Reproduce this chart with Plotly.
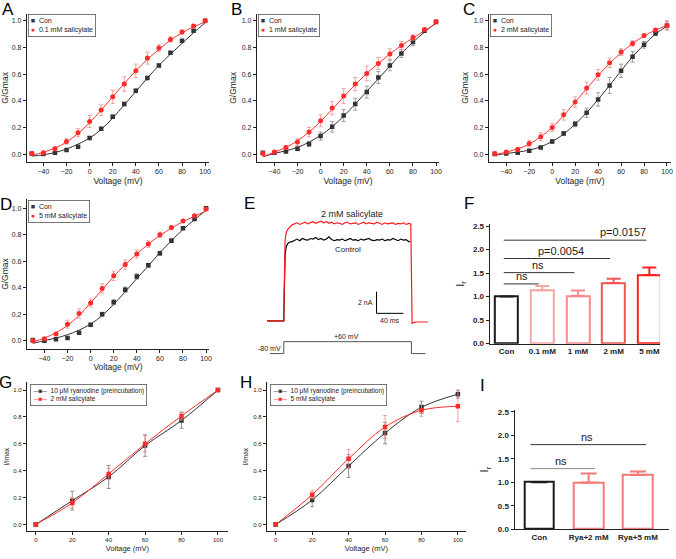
import plotly.graph_objects as go

W, H = 676, 559
FONT = "Arial, Liberation Sans, sans-serif"

# ---- G/Gmax vs voltage (panels A-D) ----
volt = [-50, -40, -30, -20, -10, 0, 10, 20, 30, 40, 50, 60, 70, 80, 90, 100]

a_con = [0.005, 0.0, 0.01, 0.03, 0.055, 0.12, 0.19, 0.28, 0.375, 0.475, 0.57, 0.665, 0.76, 0.85, 0.925, 1.0]
a_con_err = [0.005, 0.005, 0.005, 0.006, 0.008, 0.01, 0.01, 0.012, 0.014, 0.014, 0.012, 0.012, 0.01, 0.008, 0.006, 0.004]
a_sal = [0.005, 0.01, 0.04, 0.095, 0.16, 0.245, 0.33, 0.43, 0.525, 0.625, 0.72, 0.795, 0.86, 0.915, 0.96, 1.0]
a_sal_err = [0.01, 0.01, 0.015, 0.02, 0.03, 0.045, 0.04, 0.05, 0.055, 0.05, 0.045, 0.025, 0.02, 0.015, 0.01, 0.005]
a_con_fit = [-0.015, -0.005, 0.012, 0.038, 0.075, 0.12, 0.185, 0.27, 0.37, 0.47, 0.57, 0.665, 0.75, 0.83, 0.91, 0.985]
a_sal_fit = [-0.01, 0.015, 0.045, 0.09, 0.155, 0.235, 0.33, 0.43, 0.53, 0.625, 0.71, 0.785, 0.855, 0.91, 0.955, 0.99]

b_con = [0.01, 0.01, 0.02, 0.04, 0.075, 0.135, 0.205, 0.29, 0.375, 0.465, 0.575, 0.665, 0.755, 0.84, 0.925, 0.99]
b_con_err = [0.01, 0.01, 0.01, 0.015, 0.02, 0.03, 0.04, 0.045, 0.045, 0.045, 0.045, 0.04, 0.03, 0.025, 0.01, 0.005]
b_sal = [0.005, 0.015, 0.05, 0.09, 0.165, 0.25, 0.345, 0.435, 0.525, 0.605, 0.68, 0.75, 0.815, 0.875, 0.935, 0.995]
b_sal_err = [0.01, 0.01, 0.015, 0.025, 0.035, 0.045, 0.05, 0.055, 0.05, 0.055, 0.045, 0.04, 0.03, 0.02, 0.01, 0.005]
b_con_fit = [-0.02, 0.005, 0.025, 0.05, 0.09, 0.14, 0.205, 0.285, 0.375, 0.47, 0.565, 0.66, 0.755, 0.84, 0.915, 0.985]
b_sal_fit = [-0.02, 0.015, 0.05, 0.1, 0.165, 0.245, 0.335, 0.43, 0.52, 0.605, 0.68, 0.75, 0.815, 0.87, 0.925, 0.98]

c_con = [0.0, 0.005, 0.01, 0.025, 0.05, 0.095, 0.155, 0.225, 0.31, 0.41, 0.515, 0.625, 0.73, 0.82, 0.905, 0.965]
c_con_err = [0.005, 0.005, 0.005, 0.008, 0.01, 0.012, 0.015, 0.02, 0.035, 0.05, 0.06, 0.05, 0.04, 0.025, 0.015, 0.03]
c_sal = [0.005, 0.015, 0.035, 0.08, 0.13, 0.2, 0.295, 0.39, 0.495, 0.595, 0.685, 0.765, 0.83, 0.89, 0.93, 0.965]
c_sal_err = [0.01, 0.01, 0.015, 0.025, 0.03, 0.03, 0.04, 0.04, 0.045, 0.04, 0.035, 0.025, 0.02, 0.01, 0.01, 0.035]
c_con_fit = [-0.01, 0.005, 0.015, 0.03, 0.055, 0.095, 0.15, 0.225, 0.31, 0.41, 0.515, 0.625, 0.73, 0.82, 0.9, 0.96]
c_sal_fit = [-0.005, 0.015, 0.04, 0.075, 0.13, 0.2, 0.29, 0.39, 0.49, 0.59, 0.68, 0.76, 0.83, 0.885, 0.93, 0.965]

d_con = [0.005, 0.0, 0.01, 0.02, 0.06, 0.12, 0.2, 0.29, 0.385, 0.485, 0.57, 0.66, 0.755, 0.85, 0.92, 1.0]
d_con_err = [0.005, 0.005, 0.005, 0.005, 0.008, 0.01, 0.015, 0.02, 0.02, 0.02, 0.015, 0.015, 0.015, 0.008, 0.006, 0.004]
d_sal = [0.0, 0.015, 0.05, 0.125, 0.205, 0.285, 0.395, 0.49, 0.575, 0.655, 0.73, 0.8, 0.855, 0.905, 0.945, 0.995]
d_sal_err = [0.01, 0.01, 0.012, 0.03, 0.035, 0.03, 0.035, 0.035, 0.035, 0.03, 0.025, 0.02, 0.01, 0.008, 0.006, 0.005]
d_con_fit = [-0.02, 0.0, 0.02, 0.045, 0.08, 0.125, 0.19, 0.275, 0.37, 0.47, 0.565, 0.665, 0.755, 0.84, 0.915, 0.985]
d_sal_fit = [-0.01, 0.02, 0.06, 0.115, 0.19, 0.285, 0.385, 0.485, 0.575, 0.655, 0.73, 0.795, 0.85, 0.9, 0.94, 0.98]

# ---- current traces (panel E), time in ms, current in nA ----
rise_t = [-25, -1, 0, 0.5, 1, 1.5, 2, 3, 4, 6, 8, 10]
red_rise_i = [0, 0, 0, 2.5, 5.0, 6.6, 7.4, 7.9, 8.2, 8.45, 8.6, 8.75]
black_rise_i = [0, 0, 0, 1.8, 3.8, 5.2, 6.0, 6.6, 6.9, 7.15, 7.25, 7.3]
plateau_t = list(range(12, 192, 4))
red_plateau_i = [8.85, 8.95, 9.05, 8.9, 9.0, 9.1, 8.95, 9.05, 9.15, 9.0, 9.1, 9.2, 9.05, 9.15, 9.0,
                 9.1, 8.95, 9.05, 9.0, 8.9, 9.05, 9.1, 8.95, 9.0, 9.05, 8.9, 9.0, 9.1, 8.95, 9.05,
                 9.0, 8.95, 9.1, 9.0, 8.9, 9.05, 8.95, 9.0, 9.05, 8.9, 9.0, 8.95, 9.05, 8.9, 9.0]
black_plateau_i = [7.3, 7.45, 7.55, 7.4, 7.6, 7.5, 7.45, 7.6, 7.55, 7.7, 7.5, 7.6, 7.45, 7.55, 7.75,
                   7.5, 7.4, 7.5, 7.45, 7.55, 7.4, 7.5, 7.6, 7.45, 7.5, 7.4, 7.55, 7.45, 7.5, 7.6,
                   7.45, 7.4, 7.5, 7.45, 7.55, 7.4, 7.5, 7.45, 7.6, 7.5, 7.4, 7.55, 7.45, 7.5, 7.3]
red_tail_t = [191, 192, 193, 195, 200, 217]
red_tail_i = [8.95, 0.2, -0.25, -0.15, -0.1, -0.1]
black_tail_t = [190]
black_tail_i = [7.35]
step_t = [-21, 0, 0, 192, 192, 213]
step_mv = [-80, -80, 60, 60, -80, -80]
scalebar_t = [139.5, 139.5, 180]
scalebar_i = [2.7, 0.7, 0.7]

# ---- Ir bars (panel F) ----
f_labels = ["Con", "0.1 mM", "1 mM", "2 mM", "5 mM"]
f_vals = [1.0, 1.135, 1.02, 1.29, 1.46]
f_err = [0, 0.09, 0.11, 0.09, 0.16]
f_colors = ["#1a1a1a", "#f7a6a6", "#f48c8c", "#f05454", "#ff1f1f"]
f_sig_start = [-0.08, -0.08, -0.08, -0.08]
f_sig_end = [0.9, 1.9, 2.9, 3.92]
f_sig_y = [1.27, 1.51, 1.81, 2.2]
f_sig_text = ["ns", "ns", "p=0.0054", "p=0.0157"]
f_sig_text_x = [0.44, 0.88, 1.53, 3.25]

# ---- I/Imax vs voltage (panels G, H) ----
gh_volt = [0, 20, 40, 60, 80, 100]
g_rya = [0.0, 0.177, 0.354, 0.587, 0.774, 1.0]
g_rya_err = [0, 0.07, 0.086, 0.08, 0.058, 0]
g_sal = [0.0, 0.16, 0.376, 0.6, 0.808, 1.0]
g_sal_err = [0, 0.04, 0.04, 0.06, 0.03, 0]
h_rya = [0.0, 0.182, 0.435, 0.68, 0.872, 0.97]
h_rya_err = [0, 0.05, 0.085, 0.08, 0.045, 0.03]
h_sal = [0.0, 0.221, 0.489, 0.725, 0.85, 0.88]
h_sal_err = [0, 0.03, 0.068, 0.085, 0.045, 0.115]

# ---- Ir bars (panel I) ----
i_labels = ["Con", "Rya+2 mM", "Rya+5 mM"]
i_vals = [1.0, 0.995, 1.155]
i_err = [0, 0.19, 0.075]
i_colors = ["#1a1a1a", "#f47a7a", "#f47a7a"]
i_sig_start = [-0.18, -0.18]
i_sig_end = [1.13, 2.16]
i_sig_y = [1.29, 1.8]
i_sig_colors = ["#8a8a8a", "#333333"]
i_sig_text = ["ns", "ns"]
i_sig_text_x = [0.43, 0.97]


def xdom(left, right):
    return [left / W, right / W]


def ydom(top, bottom):
    return [1 - bottom / H, 1 - top / H]


def axis(domain, rng, anchor, size=7, title=None, tsize=8.5, standoff=3, **kw):
    ax = dict(domain=domain, range=rng, anchor=anchor, showline=True, linecolor="#222",
              linewidth=1, ticks="outside", ticklen=3, tickwidth=1, tickcolor="#222",
              showgrid=False, zeroline=False, tickfont=dict(size=size, color="#222", family=FONT))
    if title:
        ax["title"] = dict(text=title, font=dict(size=tsize, color="#222", family=FONT), standoff=standoff)
    ax.update(kw)
    return ax


fig = go.Figure()

gv_panels = [
    ("x", "y", a_con, a_con_err, a_sal, a_sal_err, a_con_fit, a_sal_fit),
    ("x2", "y2", b_con, b_con_err, b_sal, b_sal_err, b_con_fit, b_sal_fit),
    ("x3", "y3", c_con, c_con_err, c_sal, c_sal_err, c_con_fit, c_sal_fit),
    ("x4", "y4", d_con, d_con_err, d_sal, d_sal_err, d_con_fit, d_sal_fit),
]
for xa, ya, con, con_err, sal, sal_err, con_fit, sal_fit in gv_panels:
    fig.add_trace(go.Scatter(x=volt, y=con_fit, mode="lines", line=dict(color="#333", width=1, shape="spline"),
                             xaxis=xa, yaxis=ya))
    fig.add_trace(go.Scatter(x=volt, y=sal_fit, mode="lines", line=dict(color="#ff3030", width=1, shape="spline"),
                             xaxis=xa, yaxis=ya))
    fig.add_trace(go.Scatter(x=volt, y=con, mode="markers", name="Con",
                             marker=dict(symbol="square", size=4.5, color="#333"),
                             error_y=dict(type="data", array=con_err, color="#888", thickness=0.8, width=2),
                             xaxis=xa, yaxis=ya))
    fig.add_trace(go.Scatter(x=volt, y=sal, mode="markers", name="salicylate",
                             marker=dict(symbol="circle", size=5, color="#ff2b2b"),
                             error_y=dict(type="data", array=sal_err, color="#f38a8a", thickness=0.8, width=2),
                             xaxis=xa, yaxis=ya))

# panel E
fig.add_trace(go.Scatter(x=rise_t + plateau_t + black_tail_t, y=black_rise_i + black_plateau_i + black_tail_i,
                         mode="lines", line=dict(color="black", width=1.2), xaxis="x5", yaxis="y5"))
fig.add_trace(go.Scatter(x=rise_t + plateau_t + red_tail_t, y=red_rise_i + red_plateau_i + red_tail_i,
                         mode="lines", line=dict(color="#ff1a1a", width=1.2), xaxis="x5", yaxis="y5"))
fig.add_trace(go.Scatter(x=scalebar_t, y=scalebar_i, mode="lines", line=dict(color="black", width=1),
                         xaxis="x5", yaxis="y5"))
fig.add_trace(go.Scatter(x=step_t, y=step_mv, mode="lines", line=dict(color="#555", width=1),
                         xaxis="x6", yaxis="y6"))

# panel F
for k in range(len(f_labels)):
    fig.add_trace(go.Bar(x=[k], y=[f_vals[k]], width=0.64, marker=dict(color="white", line=dict(color=f_colors[k], width=2)),
                         error_y=dict(type="data", array=[f_err[k]], arrayminus=[0], symmetric=False,
                                      color=f_colors[k], thickness=2, width=7),
                         xaxis="x7", yaxis="y7"))
for k in range(len(f_sig_y)):
    fig.add_trace(go.Scatter(x=[f_sig_start[k], f_sig_end[k]], y=[f_sig_y[k], f_sig_y[k]], mode="lines",
                             line=dict(color="#333", width=1), xaxis="x7", yaxis="y7"))

# panels G, H
gh_panels = [
    ("x8", "y8", g_rya, g_rya_err, g_sal, g_sal_err),
    ("x9", "y9", h_rya, h_rya_err, h_sal, h_sal_err),
]
for xa, ya, rya, rya_err, sal, sal_err in gh_panels:
    fig.add_trace(go.Scatter(x=gh_volt, y=rya, mode="lines+markers",
                             line=dict(color="#333", width=1, shape="spline"),
                             marker=dict(symbol="square", size=4.5, color="#333"),
                             error_y=dict(type="data", array=rya_err, color="#777", thickness=0.8, width=2),
                             xaxis=xa, yaxis=ya))
    fig.add_trace(go.Scatter(x=gh_volt, y=sal, mode="lines+markers",
                             line=dict(color="#ff2b2b", width=1, shape="spline"),
                             marker=dict(symbol="square", size=4.5, color="#ff2b2b"),
                             error_y=dict(type="data", array=sal_err, color="#f38a8a", thickness=0.8, width=2),
                             xaxis=xa, yaxis=ya))

# panel I
for k in range(len(i_labels)):
    fig.add_trace(go.Bar(x=[k], y=[i_vals[k]], width=0.6, marker=dict(color="white", line=dict(color=i_colors[k], width=2)),
                         error_y=dict(type="data", array=[i_err[k]], arrayminus=[0], symmetric=False,
                                      color=i_colors[k], thickness=2, width=8),
                         xaxis="x10", yaxis="y10"))
for k in range(len(i_sig_y)):
    fig.add_trace(go.Scatter(x=[i_sig_start[k], i_sig_end[k]], y=[i_sig_y[k], i_sig_y[k]], mode="lines",
                             line=dict(color=i_sig_colors[k], width=1), xaxis="x10", yaxis="y10"))

gv_ticks = dict(tickvals=[-40, -20, 0, 20, 40, 60, 80, 100])
gv_yticks = dict(tickvals=[0, 0.2, 0.4, 0.6, 0.8, 1.0], tickformat=".1f")
bar_yticks = dict(tickvals=[0, 0.5, 1.0, 1.5, 2.0, 2.5], tickformat=".1f")
bold8 = dict(size=8, color="#222", family=FONT, weight="bold")

layout = dict(
    width=W, height=H, margin=dict(l=0, r=0, t=0, b=0), showlegend=False,
    plot_bgcolor="white", paper_bgcolor="white", font=dict(family=FONT, color="#222"),
    bargap=0,
    xaxis=axis(xdom(27, 210), [-54.3, 103.4], "y", title="Voltage (mV)", **gv_ticks),
    yaxis=axis(ydom(12, 162), [-0.059, 1.052], "x", title="G/Gmax", **gv_yticks),
    xaxis2=axis(xdom(258, 441), [-55.2, 102.6], "y2", title="Voltage (mV)", **gv_ticks),
    yaxis2=axis(ydom(12, 162), [-0.059, 1.052], "x2", title="G/Gmax", **gv_yticks),
    xaxis3=axis(xdom(491, 674), [-55.2, 103.5], "y3", title="Voltage (mV)", **gv_ticks),
    yaxis3=axis(ydom(12, 162), [-0.059, 1.052], "x3", title="G/Gmax", **gv_yticks),
    xaxis4=axis(xdom(27, 210), [-55.2, 102.6], "y4", title="Voltage (mV)", **gv_ticks),
    yaxis4=axis(ydom(200, 351), [-0.06, 1.067], "x4", title="G/Gmax", **gv_yticks),
    xaxis5=dict(domain=xdom(262, 440), range=[-34.5, 232], anchor="y5", visible=False),
    yaxis5=dict(domain=ydom(200, 330), range=[-0.64, 11.2], anchor="x5", visible=False),
    xaxis6=dict(domain=xdom(262, 440), range=[-34.5, 232], anchor="y6", visible=False),
    yaxis6=dict(domain=ydom(338, 362), range=[-150, 130], anchor="x6", visible=False),
    xaxis7=axis(xdom(492, 663), [-0.47, 4.3], "y7", tickvals=[0, 1, 2, 3, 4], ticktext=f_labels,
                tickfont=bold8, ticklen=0, linewidth=1.3),
    yaxis7=axis(ydom(225, 346), [0, 2.54], "x7", title="I<sub>r</sub>", tsize=11, standoff=6,
                tickfont=bold8, linewidth=1.3, **bar_yticks),
    xaxis8=axis(xdom(27, 229), [-4.9, 105.5], "y8", size=6, title="Voltage (mV)", tsize=7.5,
                tickvals=[0, 20, 40, 60, 80, 100]),
    yaxis8=axis(ydom(385, 536), [-0.051, 1.059], "x8", size=6, title="I/Imax", tsize=6.5, **gv_yticks),
    xaxis9=axis(xdom(268, 468), [-4.9, 104.4], "y9", size=6, title="Voltage (mV)", tsize=7.5,
                tickvals=[0, 20, 40, 60, 80, 100]),
    yaxis9=axis(ydom(385, 536), [-0.051, 1.059], "x9", size=6, title="I/Imax", tsize=6.5, **gv_yticks),
    xaxis10=axis(xdom(517, 672), [-0.5, 2.63], "y10", tickvals=[0, 1, 2], ticktext=i_labels,
                 tickfont=bold8, ticklen=0, linewidth=1.3),
    yaxis10=axis(ydom(413, 534), [0, 2.54], "x10", title="I<sub>r</sub>", tsize=11, standoff=6,
                 tickfont=bold8, linewidth=1.3, **bar_yticks),
)
fig.update_layout(**layout)

letters = [("A", 8, 8), ("B", 238, 8), ("C", 471, 8), ("D", 6, 205), ("E", 251, 204),
           ("F", 471, 204), ("G", 6, 385), ("H", 247, 385), ("I", 485, 388)]
for txt, px, py in letters:
    fig.add_annotation(text=txt, x=px / W, y=1 - py / H, xref="paper", yref="paper", showarrow=False,
                       xanchor="center", yanchor="middle", font=dict(size=17, family=FONT, color="black"))

# legend boxes (Origin style, compact)
BLK, RED, TXT = "#333333", "#ff2b2b", "#222222"
legend_boxes = [
    (28, 12, 7, [("\u25a0", BLK, "Con"), ("\u25cf", RED, "0.1 mM salicylate")]),
    (259, 12, 7, [("\u25a0", BLK, "Con"), ("\u25cf", RED, "1 mM salicylate")]),
    (492, 12, 7, [("\u25a0", BLK, "Con"), ("\u25cf", RED, "2 mM salicylate")]),
    (28, 201, 7, [("\u25a0", BLK, "Con"), ("\u25cf", RED, "5 mM salicylate")]),
    (30, 387, 6.5, [("\u2500\u25a0\u2500", BLK, "10 \u03bcM ryanodine (preincubation)"),
                    ("\u2500\u25a0\u2500", RED, "2 mM salicylate")]),
    (271, 387, 6.5, [("\u2500\u25a0\u2500", BLK, "10 \u03bcM ryanodine (preincubation)"),
                     ("\u2500\u25a0\u2500", RED, "5 mM salicylate")]),
]
for px, py, fsize, rows in legend_boxes:
    lines = [f'<span style="color:{c}">{sym}</span><span style="color:{TXT}">  {name}</span>'
             for sym, c, name in rows]
    fig.add_annotation(text="<br>".join(lines), x=px / W, y=1 - py / H, xref="paper", yref="paper",
                       showarrow=False, xanchor="left", yanchor="top", align="left",
                       bordercolor="#555", borderwidth=0.8, borderpad=2, bgcolor="white",
                       font=dict(size=fsize, family=FONT, color=TXT))

small = dict(family=FONT, color="#222")
fig.add_annotation(text="2 mM salicylate", x=102, y=9.9, xref="x5", yref="y5", showarrow=False,
                   font=dict(size=9, **small))
fig.add_annotation(text="Control", x=97, y=6.6, xref="x5", yref="y5", showarrow=False,
                   font=dict(size=8, **small))
fig.add_annotation(text="2 nA", x=137, y=1.7, xref="x5", yref="y5", showarrow=False, xanchor="right",
                   font=dict(size=7, **small))
fig.add_annotation(text="40 ms", x=160, y=0.55, xref="x5", yref="y5", showarrow=False, yanchor="top",
                   font=dict(size=7, **small))
fig.add_annotation(text="-80 mV", x=-1, y=-80, xref="x6", yref="y6", showarrow=False, xanchor="right",
                   yanchor="bottom", font=dict(size=7, **small))
fig.add_annotation(text="+60 mV", x=94, y=60, xref="x6", yref="y6", showarrow=False, yanchor="bottom",
                   font=dict(size=7, **small))

for k in range(len(f_sig_text)):
    fig.add_annotation(text=f_sig_text[k], x=f_sig_text_x[k], y=f_sig_y[k], xref="x7", yref="y7",
                       showarrow=False, yanchor="bottom", font=dict(size=11, **small))
for k in range(len(i_sig_text)):
    fig.add_annotation(text=i_sig_text[k], x=i_sig_text_x[k], y=i_sig_y[k], xref="x10", yref="y10",
                       showarrow=False, yanchor="bottom", font=dict(size=11, **small))

fig.write_html("out.html", config={"displayModeBar": False},
               post_script="document.body.style.margin='0';")
